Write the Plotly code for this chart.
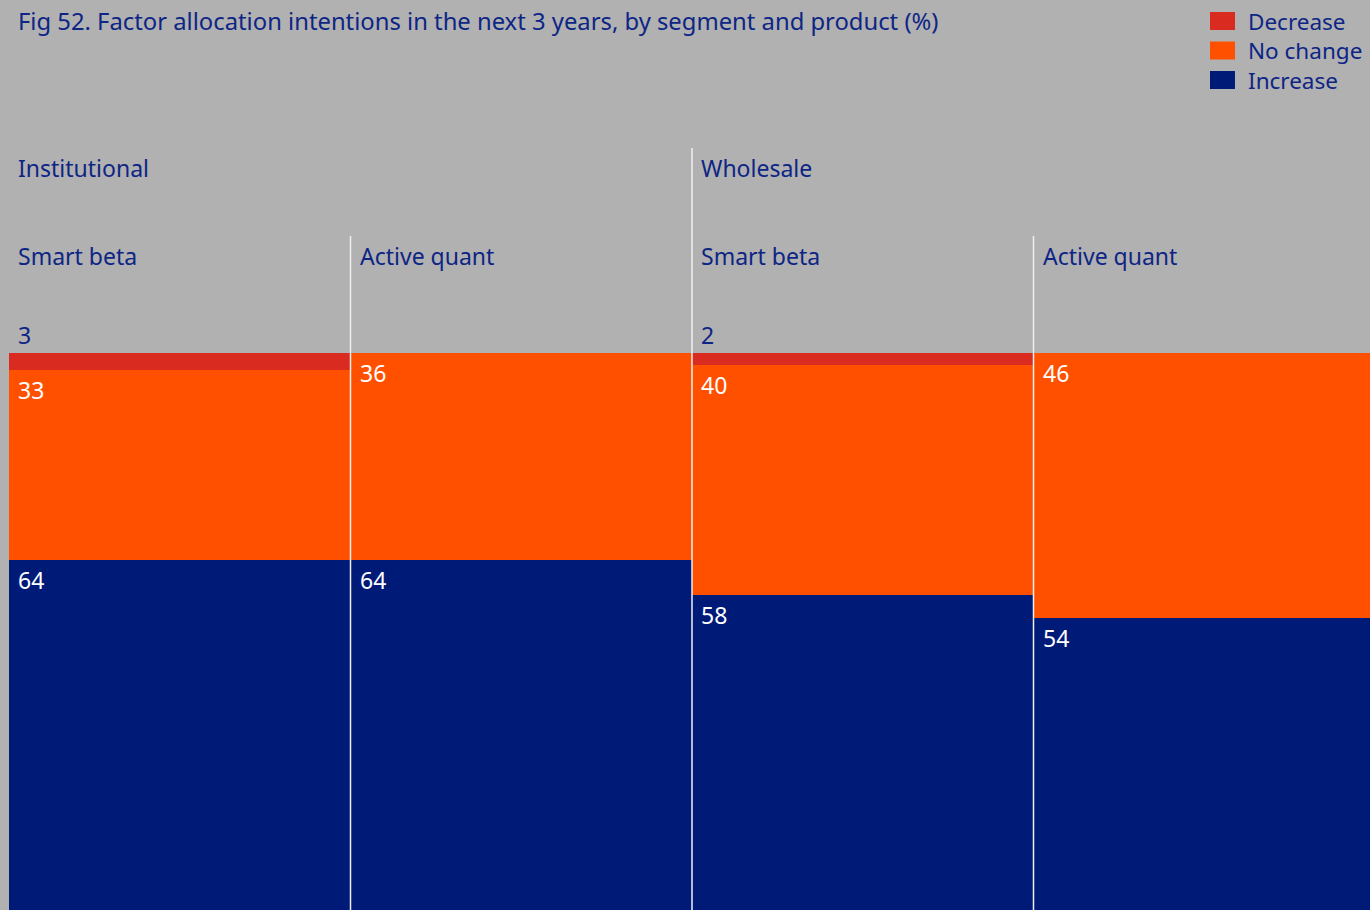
import plotly.graph_objects as go

products = ["Smart beta", "Active quant", "Smart beta", "Active quant"]
segments = ["Institutional", "Wholesale"]
segment_start = [0, 2]
decrease = [3, 0, 2, 0]
no_change = [33, 36, 40, 46]
increase = [64, 64, 58, 54]
series_names = ["Decrease", "No change", "Increase"]
colors = {"Decrease": "#d92b1f", "No change": "#ff5000", "Increase": "#001a78"}
title = "Fig 52. Factor allocation intentions in the next 3 years, by segment and product (%)"

BG = "#b1b1b1"
NAVY = "#0d2585"
FONT = "Noto Sans"
FS = 23

W, H = 1370, 910
# x: bar width 341.5 px, first bar starts at 9px
colw = 341.5
x0 = -0.5 - 9 / colw
x1 = x0 + W / colw
# y: 5.75 px per unit, top of stack (100) at pixel 353
ppu = 5.75
y_top = 100 + 353 / ppu
y_bot = y_top - H / ppu

xs = list(range(len(products)))
fig = go.Figure()
for name, vals in [("Increase", increase), ("No change", no_change), ("Decrease", decrease)]:
    fig.add_trace(go.Bar(x=xs, y=vals, name=name, marker=dict(color=colors[name], line=dict(width=0)),
                         width=1, showlegend=False, hoverinfo="name+y"))

ann = []
for i in xs:
    left = i - 0.5
    ann.append(dict(x=left, y=increase[i], text=str(increase[i]), xanchor="left", yanchor="top",
                    xshift=7, yshift=-2, font=dict(color="white", size=FS, family=FONT)))
    ann.append(dict(x=left, y=increase[i] + no_change[i], text=str(no_change[i]), xanchor="left", yanchor="top",
                    xshift=7, yshift=-2, font=dict(color="white", size=FS, family=FONT)))
    if decrease[i] > 0:
        ann.append(dict(x=left, y=100, text=str(decrease[i]), xanchor="left", yanchor="bottom",
                        xshift=7, yshift=0, font=dict(color=NAVY, size=FS, family=FONT)))
    ann.append(dict(x=left, y=1 - 256 / H, yref="paper", text=products[i], xanchor="left", yanchor="middle",
                    xshift=7, font=dict(color=NAVY, size=FS, family=FONT)))
for s, st in zip(segments, segment_start):
    ann.append(dict(x=st - 0.5, y=1 - 168 / H, yref="paper", text=s, xanchor="left", yanchor="middle",
                    xshift=7, font=dict(color=NAVY, size=FS, family=FONT)))
for a in ann:
    a.setdefault("xref", "x")
    a.setdefault("yref", "y")
    a["showarrow"] = False

ann.append(dict(x=16 / W, y=1 - 21 / H, xref="paper", yref="paper", text=title, showarrow=False,
                xanchor="left", yanchor="middle", font=dict(color=NAVY, size=23.8, family=FONT)))

shapes = []
# legend
for k, name in enumerate(series_names):
    yc = 21 + k * 29.5
    shapes.append(dict(type="rect", xref="paper", yref="paper", x0=1210 / W, x1=1235 / W,
                       y0=1 - (yc + 9) / H, y1=1 - (yc - 9) / H, fillcolor=colors[name], line=dict(width=0)))
    ann.append(dict(x=1246 / W, y=1 - yc / H, xref="paper", yref="paper", text=name, showarrow=False,
                    xanchor="left", yanchor="middle", font=dict(color=NAVY, size=22.5, family=FONT)))

# divider lines
for i in range(1, len(products)):
    top = 148 if i in segment_start else 236
    shapes.append(dict(type="line", xref="x", yref="paper", x0=i - 0.5, x1=i - 0.5,
                       y0=0, y1=1 - top / H, line=dict(color="#f0f0f0", width=1.5), layer="above"))

fig.update_layout(
    width=W, height=H, margin=dict(l=0, r=0, t=0, b=0),
    paper_bgcolor=BG, plot_bgcolor=BG, barmode="stack", bargap=0,
    xaxis=dict(range=[x0, x1], visible=False, fixedrange=True),
    yaxis=dict(range=[y_bot, y_top], visible=False, fixedrange=True),
    annotations=ann, shapes=shapes, showlegend=False,
)
fig.write_html("out.html", config={"displayModeBar": False},
               post_script="document.body.style.margin='0';document.body.style.overflow='hidden';")
